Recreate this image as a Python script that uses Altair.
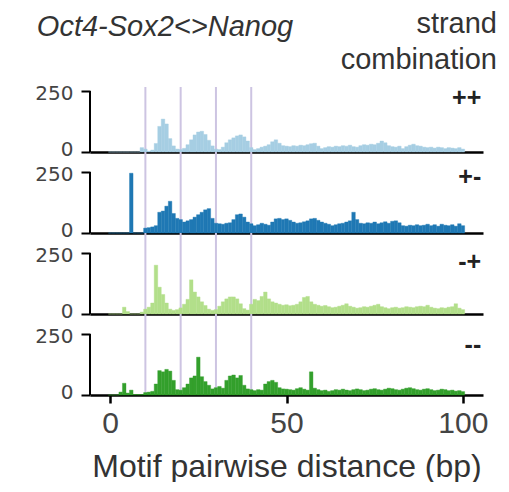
import altair as alt
import pandas as pd

bp = list(range(101))

pp = [0, 0, 0, 0, 0, 0, 0, 0, 0,
      18, 12, 4, 8, 35, 105, 135, 115, 55, 25, 12,
      10, 15, 30, 50, 70, 82, 85, 72, 48, 25,
      12, 10, 20, 38, 50, 58, 66, 70, 62, 45,
      18, 10, 14, 20, 24, 30, 42, 50, 36, 26,
      24, 22, 26, 24, 28, 26, 30, 34, 36, 24,
      14, 18, 22, 20, 24, 22, 26, 24, 28, 22,
      20, 26, 30, 28, 32, 30, 36, 45, 38, 26,
      22, 20, 24, 14, 22, 28, 32, 26, 24, 20,
      18, 20, 16, 20, 18, 14, 18, 16, 14, 18, 12]

pm = [0, 0, 0, 0, 0, 0, 245, 0, 0, 0,
      20, 22, 25, 30, 85, 90, 110, 130, 80, 60,
      55, 45, 50, 55, 65, 75, 85, 95, 100, 60,
      40, 38, 36, 40, 42, 55, 75, 78, 65, 45,
      38, 30, 34, 40, 36, 32, 45, 58, 60, 55,
      58, 52, 45, 40, 42, 46, 50, 58, 60, 52,
      45, 40, 36, 30, 34, 38, 40, 45, 50, 85,
      55, 40, 38, 42, 40, 45, 38, 42, 46, 40,
      48, 50, 42, 30, 28, 32, 30, 34, 30, 32,
      36, 30, 34, 28, 36, 32, 30, 34, 28, 38, 30]

mp = [0, 0, 0, 0, 28, 10, 0, 0, 0, 8,
      20, 28, 45, 200, 110, 80, 45, 20, 15, 18,
      25, 40, 60, 140, 90, 70, 50, 35, 20, 15,
      18, 32, 50, 62, 70, 70, 62, 42, 22, 16,
      40, 60, 55, 72, 90, 62, 50, 45, 40, 36,
      38, 34, 36, 40, 50, 68, 72, 50, 40, 36,
      32, 35, 30, 26, 28, 32, 36, 42, 32, 28,
      24, 26, 30, 28, 32, 36, 40, 30, 26, 22,
      26, 28, 24, 26, 30, 28, 26, 30, 32, 30,
      36, 28, 24, 22, 26, 24, 28, 30, 42, 24, 18]

mm = [0, 0, 0, 12, 48, 8, 20, 2, 2, 2,
      10, 12, 15, 45, 100, 95, 105, 98, 60, 22,
      20, 30, 45, 70, 78, 155, 75, 55, 40, 25,
      30, 35, 28, 60, 78, 82, 70, 80, 40, 25,
      22, 18, 22, 20, 45, 55, 60, 52, 30, 25,
      24, 22, 20, 26, 30, 24, 20, 95, 28, 22,
      18, 20, 15, 18, 22, 20, 24, 20, 18, 22,
      25, 22, 18, 20, 24, 26, 22, 20, 24, 28,
      26, 22, 20, 24, 28, 30, 26, 22, 20, 24,
      26, 22, 18, 20, 24, 22, 18, 20, 16, 18, 14]

series = [pp, pm, mp, mm]
combos = ["++", "+-", "-+", "--"]
colors = ["#a6cee3", "#1f78b4", "#b2df8a", "#33a02c"]
label_y = [222, 230, 213, 205]
guide_bp = [10, 20, 30, 40]
x_ticks = [0, 50, 100]
y_ticks = [0, 250]

X_MIN, X_MAX = -5.7, 105.7
W = 393
panel_h = [65, 81, 81, 81]
PX_PER_250 = 61
FONT = "Liberation Sans"

guides_df = pd.DataFrame({"g": guide_bp})


def panel(i):
    df = pd.DataFrame({"bp": bp, "count": series[i]})
    lab_df = pd.DataFrame({"combo": [combos[i]], "lx": [X_MAX - 0.5], "ly": [label_y[i]]})
    ymax = panel_h[i] * 250 / PX_PER_250
    last = i == 3
    xs = alt.Scale(domain=[X_MIN, X_MAX], nice=False, zero=False)
    ys = alt.Scale(domain=[0, ymax], nice=False, zero=True)
    if last:
        xaxis = alt.Axis(values=x_ticks, grid=False, ticks=True, labels=True,
                         tickSize=8, tickWidth=2.5, tickColor="black",
                         labelFontSize=30, labelPadding=5, labelColor="#444",
                         labelFont=FONT, titleFont=FONT, titleFontSize=32,
                         titleFontWeight="normal", titleColor="#333",
                         titlePadding=13)
        xtitle = "Motif pairwise distance (bp)"
    else:
        xaxis = alt.Axis(values=x_ticks, grid=False, ticks=False, labels=False)
        xtitle = None
    yaxis = alt.Axis(values=y_ticks, domain=False, grid=False, tickSize=9,
                     tickWidth=2, tickColor="black", labelFontSize=20,
                     labelPadding=8, labelColor="#444", labelFont="DejaVu Sans",
                     labelOffset={"condition": {"test": "datum.value === 0", "value": -3},
                                  "value": 2})

    guides = alt.Chart(guides_df).mark_rule(color="#cdc4e2", strokeWidth=2).encode(
        x=alt.X("g:Q", scale=xs, axis=xaxis, title=xtitle)
    )
    bars = alt.Chart(df).mark_bar(color=colors[i], stroke=colors[i],
                                  strokeWidth=0.4).transform_calculate(
        x1="datum.bp - 0.5", x2="datum.bp + 0.5"
    ).encode(
        x=alt.X("x1:Q", scale=xs, axis=xaxis, title=xtitle),
        x2="x2:Q",
        y=alt.Y("count:Q", scale=ys, axis=yaxis, title=None),
        y2=alt.datum(0),
    )
    yline = alt.Chart(lab_df).mark_rule(color="black", strokeWidth=2).encode(
        x=alt.datum(X_MIN), y=alt.datum(0), y2=alt.datum(250)
    )
    lab = alt.Chart(lab_df).mark_text(
        align="right", baseline="middle", fontSize=25,
        fontWeight="bold", font=FONT, color="#222"
    ).encode(x=alt.X("lx:Q", scale=xs, axis=xaxis, title=xtitle),
             y=alt.Y("ly:Q", scale=ys, axis=yaxis, title=None),
             text="combo:N")

    ch = alt.layer(guides, bars, yline, lab).properties(width=W, height=panel_h[i])
    if i == 0:
        ch = ch.properties(title=alt.TitleParams(
            ["strand", "combination"], anchor="end", align="right", fontSize=29,
            fontWeight="normal", font=FONT, color="#333", lineHeight=36, dx=14,
            offset=8))
    return ch


chart = alt.vconcat(*[panel(i) for i in range(4)], spacing=0, bounds="flush").properties(
    title=alt.TitleParams("Oct4-Sox2<>Nanog", anchor="start", fontSize=29,
                          fontStyle="italic", fontWeight="normal", font=FONT,
                          color="#333", dy=36, dx=2),
    padding={"left": 26, "top": 2, "right": 0, "bottom": 0},
).configure_view(stroke=None).configure_axis(
    domainColor="black", domainWidth=2.5
)

chart.save("out.html", embed_options={"renderer": "svg", "actions": False})
